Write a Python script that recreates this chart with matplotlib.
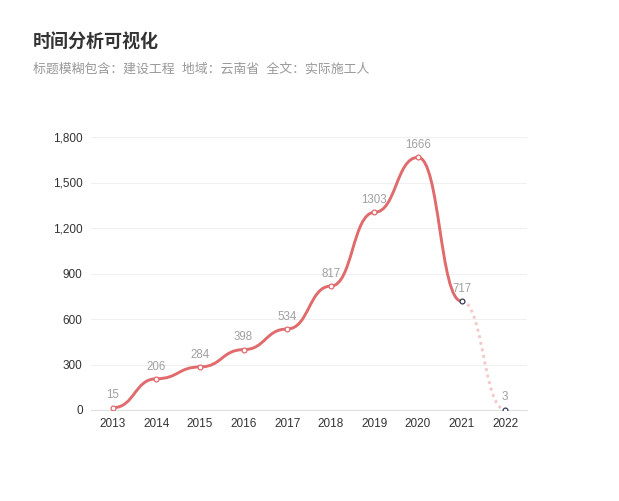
import matplotlib
matplotlib.use('Agg')
import matplotlib.pyplot as plt
from matplotlib.path import Path
from matplotlib.patches import PathPatch
from matplotlib.ticker import FuncFormatter, MultipleLocator

plt.rcParams['font.family'] = ['Liberation Sans', 'Noto Sans CJK SC', 'DejaVu Sans']

# data
years = ['2013', '2014', '2015', '2016', '2017', '2018', '2019', '2020', '2021', '2022']
counts = [15, 206, 284, 398, 534, 817, 1303, 1666, 717, 3]
n_solid = 9  # last segment (2021 -> 2022) drawn dotted

title = '时间分析可视化'
subtitle = '标题模糊包含：建设工程  地域：云南省  全文：实际施工人'

RED = '#e06a6c'
PINK = '#f3c9c9'
NAVY = '#2f3e55'

fig = plt.figure(figsize=(6.19, 5.01), dpi=100)
ax = fig.add_axes([91/619, 1 - 410/501, 436/619, 273/501])

x = list(range(len(years)))


def smooth_path(xs, ys, k=0.5):
    # bezier with horizontal tangents (echarts smoothMonotone 'x' style)
    verts = [(xs[0], ys[0])]
    codes = [Path.MOVETO]
    for i in range(len(xs) - 1):
        dx = xs[i + 1] - xs[i]
        verts += [(xs[i] + k*dx, ys[i]), (xs[i + 1] - k*dx, ys[i + 1]), (xs[i + 1], ys[i + 1])]
        codes += [Path.CURVE4]*3
    return Path(verts, codes)


solid = smooth_path(x[:n_solid], counts[:n_solid])
ax.add_patch(PathPatch(solid, fill=False, edgecolor=RED, lw=2.1, capstyle='round', zorder=3))
dotted = smooth_path(x[n_solid-1:], counts[n_solid-1:])
ax.add_patch(PathPatch(dotted, fill=False, edgecolor=PINK, lw=2.1, linestyle=(0, (1, 1.3)), zorder=2))

ax.scatter(x[:n_solid-1], counts[:n_solid-1], s=12, facecolor='white', edgecolor=RED, linewidth=0.9, zorder=4)
ax.scatter(x[n_solid-1:], counts[n_solid-1:], s=12, facecolor='white', edgecolor=NAVY, linewidth=0.9, zorder=4)

for xi, yi in zip(x, counts):
    ax.annotate(str(yi), (xi, yi), xytext=(0, 4.5), textcoords='offset points',
                ha='center', va='bottom', fontsize=8.3, color='#a0a0a0', zorder=5)

ax.set_xlim(-0.5, len(years) - 0.5)
ax.set_ylim(0, 1800)
ax.set_xticks(x)
ax.set_xticklabels(years)
ax.yaxis.set_major_locator(MultipleLocator(300))
ax.yaxis.set_major_formatter(FuncFormatter(lambda v, p: '{:,.0f}'.format(v)))
ax.grid(axis='y', color='#f0f0f0', lw=0.8)
ax.set_axisbelow(True)
for s in ['top', 'right', 'left']:
    ax.spines[s].set_visible(False)
ax.spines['bottom'].set_color('#e0e0e0')
ax.spines['bottom'].set_linewidth(0.8)
ax.tick_params(axis='both', length=0, labelsize=8.5, labelcolor='#333333')
ax.tick_params(axis='y', pad=6)
ax.tick_params(axis='x', pad=6)

fig.text(33/619, 1 - 43/501, title, fontsize=13, fontweight='bold', color='#333333', va='center', ha='left')
fig.text(33/619, 1 - 69/501, subtitle, fontsize=9.3, color='#999999', va='center', ha='left')

fig.savefig('out.png', dpi=100)
